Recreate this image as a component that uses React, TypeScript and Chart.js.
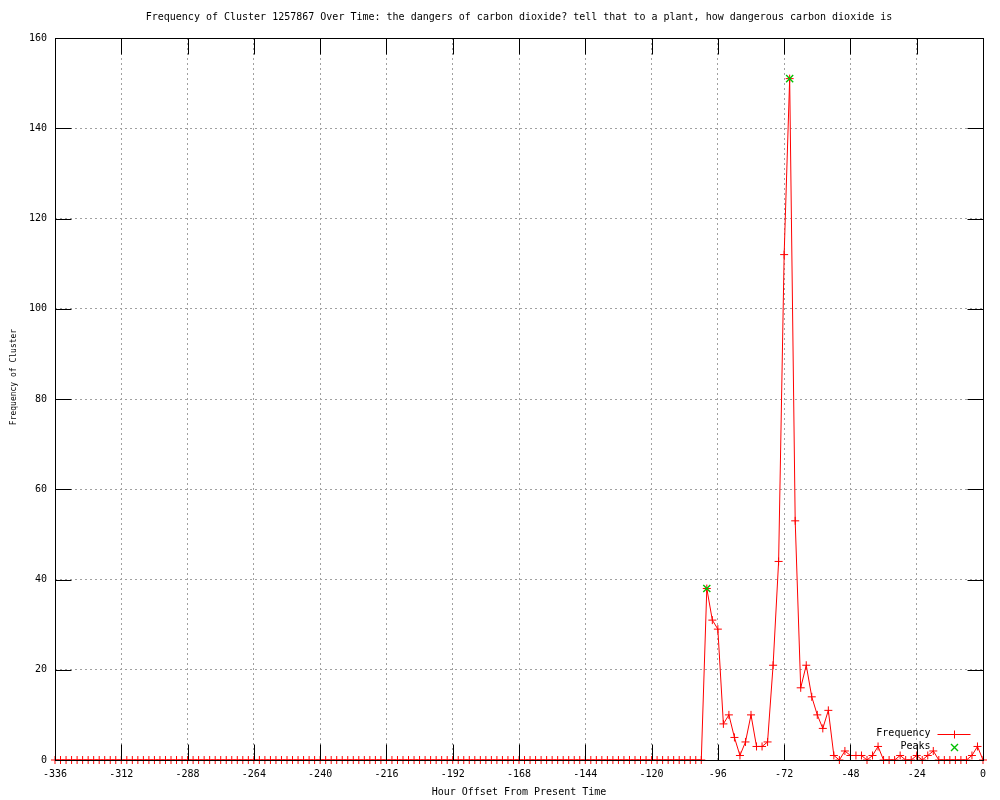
import React, { useEffect, useRef } from "react";
import { Chart, registerables } from "chart.js";

Chart.register(...registerables);

const TITLE =
  "Frequency of Cluster 1257867 Over Time: the dangers of carbon dioxide? tell that to a plant, how dangerous carbon dioxide is";
const X_LABEL = "Hour Offset From Present Time";
const Y_LABEL = "Frequency of Cluster";
const LEGEND_FREQ = "Frequency";
const LEGEND_PEAKS = "Peaks";

const HOUR_START = -336;
const HOUR_STEP = 2;
const X_TICK_STEP = 24;
const Y_MAX = 160;
const Y_TICK_STEP = 20;

// Frequency sampled every 2 hours from -336 to 0
const FREQUENCY = [
  // -336 .. -102
  0, 0, 0, 0, 0, 0, 0, 0, 0, 0,
  0, 0, 0, 0, 0, 0, 0, 0, 0, 0,
  0, 0, 0, 0, 0, 0, 0, 0, 0, 0,
  0, 0, 0, 0, 0, 0, 0, 0, 0, 0,
  0, 0, 0, 0, 0, 0, 0, 0, 0, 0,
  0, 0, 0, 0, 0, 0, 0, 0, 0, 0,
  0, 0, 0, 0, 0, 0, 0, 0, 0, 0,
  0, 0, 0, 0, 0, 0, 0, 0, 0, 0,
  0, 0, 0, 0, 0, 0, 0, 0, 0, 0,
  0, 0, 0, 0, 0, 0, 0, 0, 0, 0,
  0, 0, 0, 0, 0, 0, 0, 0, 0, 0,
  0, 0, 0, 0, 0, 0, 0, 0,
  // -100 .. 0
  38, 31, 29, 8, 10, 5, 1, 4, 10, 3,
  3, 4, 21, 44, 112, 151, 53, 16, 21, 14,
  10, 7, 11, 1, 0, 2, 1, 1, 1, 0,
  1, 3, 0, 0, 0, 1, 0, 0, 1, 0,
  1, 2, 0, 0, 0, 0, 0, 0, 1, 3,
  0,
];

const HOURS = FREQUENCY.map((_, i) => HOUR_START + i * HOUR_STEP);

const PEAK_HOURS = [-100, -70];
const PEAK_VALUES = [38, 151];

const FONT = "'DejaVu Sans Mono', 'Liberation Mono', monospace";
const RED = "#ff0000";
const GREEN = "#00c000";
const GRID = "#a0a0a0";
const TICK_LEN = 16;

const gnuFrame = {
  id: "gnuFrame",
  afterDatasetsDraw(chart: any) {
    const { ctx, chartArea: a, scales } = chart;
    const L = Math.round(a.left) + 0.5;
    const R = Math.round(a.right) + 0.5;
    const T = Math.round(a.top) + 0.5;
    const B = Math.round(a.bottom) + 0.5;
    ctx.save();
    ctx.strokeStyle = "#000";
    ctx.lineWidth = 1;
    ctx.setLineDash([]);
    ctx.beginPath();
    scales.x.ticks.forEach((t: any) => {
      const px = Math.round(scales.x.getPixelForValue(t.value)) + 0.5;
      ctx.moveTo(px, B);
      ctx.lineTo(px, B - TICK_LEN);
      ctx.moveTo(px, T);
      ctx.lineTo(px, T + TICK_LEN);
    });
    scales.y.ticks.forEach((t: any) => {
      const py = Math.round(scales.y.getPixelForValue(t.value)) + 0.5;
      ctx.moveTo(L, py);
      ctx.lineTo(L + TICK_LEN, py);
      ctx.moveTo(R, py);
      ctx.lineTo(R - TICK_LEN, py);
    });
    ctx.stroke();
    ctx.strokeRect(L, T, R - L, B - T);

    // legend (gnuplot style, bottom right inside plot)
    ctx.font = `10px ${FONT}`;
    ctx.fillStyle = "#000";
    ctx.textAlign = "right";
    ctx.textBaseline = "middle";
    const textX = R - 53;
    const row1 = B - 27;
    const row2 = B - 14;
    ctx.fillText(LEGEND_FREQ, textX, row1);
    ctx.fillText(LEGEND_PEAKS, textX, row2);
    const sx0 = textX + 7;
    const sx1 = textX + 40;
    const sxc = Math.round((sx0 + sx1) / 2) + 0.5;
    ctx.strokeStyle = RED;
    ctx.beginPath();
    ctx.moveTo(sx0, Math.round(row1) + 0.5);
    ctx.lineTo(sx1, Math.round(row1) + 0.5);
    ctx.moveTo(sxc, Math.round(row1) + 0.5 - 4);
    ctx.lineTo(sxc, Math.round(row1) + 0.5 + 4);
    ctx.stroke();
    ctx.strokeStyle = GREEN;
    ctx.lineWidth = 1.4;
    const d = 3.5;
    const cy = Math.round(row2) + 0.5;
    ctx.beginPath();
    ctx.moveTo(sxc - d, cy - d);
    ctx.lineTo(sxc + d, cy + d);
    ctx.moveTo(sxc - d, cy + d);
    ctx.lineTo(sxc + d, cy - d);
    ctx.stroke();
    ctx.restore();
  },
  afterDraw(chart: any) {
    const { ctx } = chart;
    ctx.save();
    ctx.font = `8px ${FONT}`;
    ctx.fillStyle = "#000";
    ctx.textAlign = "center";
    ctx.textBaseline = "middle";
    ctx.translate(14, 377);
    ctx.rotate(-Math.PI / 2);
    ctx.fillText(Y_LABEL, 0, 0);
    ctx.restore();
  },
};

export default function App() {
  const ref = useRef<HTMLCanvasElement | null>(null);

  useEffect(() => {
    document.body.style.margin = "0";
    document.body.style.background = "#ffffff";
    const canvas = ref.current;
    if (!canvas) return;
    Chart.defaults.font.family = FONT;
    Chart.defaults.font.size = 10;
    Chart.defaults.color = "#000";

    const freqData = HOURS.map((h, i) => ({ x: h, y: FREQUENCY[i] }));
    const peakData = PEAK_HOURS.map((h, i) => ({ x: h, y: PEAK_VALUES[i] }));

    const chart = new Chart(canvas, {
      type: "line",
      data: {
        datasets: [
          {
            label: LEGEND_FREQ,
            data: freqData,
            borderColor: RED,
            backgroundColor: RED,
            borderWidth: 1,
            pointStyle: "cross",
            pointRadius: 4,
            pointBorderWidth: 1,
            pointBorderColor: RED,
            tension: 0,
            clip: false,
            order: 1,
          } as any,
          {
            label: LEGEND_PEAKS,
            data: peakData,
            showLine: false,
            borderColor: GREEN,
            backgroundColor: GREEN,
            pointStyle: "crossRot",
            pointRadius: 5,
            pointBorderWidth: 1.4,
            pointBorderColor: GREEN,
            clip: false,
            order: 0,
          } as any,
        ],
      },
      options: {
        responsive: false,
        animation: false,
        events: [],
        layout: { padding: { left: 0, right: 17, top: 0, bottom: 0 } },
        plugins: {
          legend: { display: false },
          tooltip: { enabled: false },
          title: {
            display: true,
            text: TITLE,
            fullSize: false,
            color: "#000",
            font: { family: FONT, size: 10, weight: "normal" },
            padding: { top: 11, bottom: 15 },
          },
        },
        scales: {
          x: {
            type: "linear",
            min: HOUR_START,
            max: 0,
            afterFit: (s: any) => {
              s.height = 40;
            },
            ticks: {
              stepSize: X_TICK_STEP,
              autoSkip: false,
              maxRotation: 0,
              padding: 8,
              color: "#000",
              font: { family: FONT, size: 10 },
              callback: (v: any) => String(v),
            },
            grid: {
              color: GRID,
              lineWidth: 1,
              drawTicks: false,
              tickLength: 0,
            },
            border: { display: false, dash: [2, 3] },
            title: {
              display: true,
              text: X_LABEL,
              color: "#000",
              font: { family: FONT, size: 10 },
              padding: { top: 0, bottom: 2 },
            },
          },
          y: {
            type: "linear",
            min: 0,
            max: Y_MAX,
            afterFit: (s: any) => {
              s.width = 55;
            },
            ticks: {
              stepSize: Y_TICK_STEP,
              autoSkip: false,
              padding: 8,
              color: "#000",
              font: { family: FONT, size: 10 },
              callback: (v: any) => String(v),
            },
            grid: {
              color: GRID,
              lineWidth: 1,
              drawTicks: false,
              tickLength: 0,
            },
            border: { display: false, dash: [2, 3] },
          },
        },
      } as any,
      plugins: [gnuFrame],
    });
    return () => chart.destroy();
  }, []);

  return (
    <div style={{ position: "absolute", left: 0, top: 0, width: 1000, height: 800, background: "#fff" }}>
      <canvas ref={ref} width={1000} height={800} style={{ display: "block", width: 1000, height: 800 }} />
    </div>
  );
}
